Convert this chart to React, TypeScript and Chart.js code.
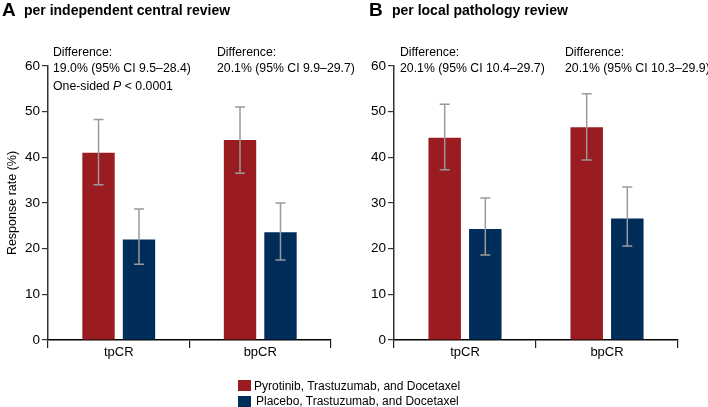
import React, { useEffect, useRef } from 'react';
import { Chart, registerables } from 'chart.js';
Chart.register(...registerables);

const FONT = '"Liberation Sans", Arial, Helvetica, sans-serif';
const RED = '#9b1c20';
const BLUE = '#012d5a';
const ERR = '#9a9a9a';

const categories = ['tpCR', 'bpCR'];
const seriesNames = ['Pyrotinib, Trastuzumab, and Docetaxel', 'Placebo, Trastuzumab, and Docetaxel'];
const yTicks = [0, 10, 20, 30, 40, 50, 60];

// Panel A: per independent central review
const aRed = [41.0, 43.8];
const aRedLow = [34.0, 36.5];
const aRedHigh = [48.3, 51.0];
const aBlue = [22.0, 23.6];
const aBlueLow = [16.6, 17.5];
const aBlueHigh = [28.7, 30.0];

// Panel B: per local pathology review
const bRed = [44.3, 46.6];
const bRedLow = [37.3, 39.4];
const bRedHigh = [51.6, 53.9];
const bBlue = [24.3, 26.6];
const bBlueLow = [18.6, 20.6];
const bBlueHigh = [31.1, 33.5];

function makeErrPlugin(lows: number[][], highs: number[][]) {
  return {
    id: 'errbars',
    afterDatasetsDraw(chart: any) {
      const ctx = chart.ctx;
      const y = chart.scales.y;
      ctx.save();
      ctx.strokeStyle = ERR;
      ctx.lineWidth = 1.5;
      chart.data.datasets.forEach((_: any, di: number) => {
        const meta = chart.getDatasetMeta(di);
        meta.data.forEach((bar: any, i: number) => {
          const x = bar.x;
          const yl = y.getPixelForValue(lows[di][i]);
          const yh = y.getPixelForValue(highs[di][i]);
          ctx.beginPath();
          ctx.moveTo(x, yl);
          ctx.lineTo(x, yh);
          ctx.moveTo(x - 5, yl);
          ctx.lineTo(x + 5, yl);
          ctx.moveTo(x - 5, yh);
          ctx.lineTo(x + 5, yh);
          ctx.stroke();
        });
      });
      ctx.restore();
    },
  };
}

type PanelProps = {
  left: number;
  yAxisWidth: number;
  rightPad: number;
  yTitle: string;
  red: number[]; redLow: number[]; redHigh: number[];
  blue: number[]; blueLow: number[]; blueHigh: number[];
};

function Panel(p: PanelProps) {
  const ref = useRef<HTMLCanvasElement>(null);
  useEffect(() => {
    const chart = new Chart(ref.current as HTMLCanvasElement, {
      type: 'bar',
      data: {
        labels: categories,
        datasets: [
          { label: seriesNames[0], data: p.red, backgroundColor: RED, borderWidth: 0 },
          { label: seriesNames[1], data: p.blue, backgroundColor: BLUE, borderWidth: 0 },
        ],
      },
      options: {
        responsive: false,
        animation: false,
        devicePixelRatio: 1,
        layout: { padding: { top: 66, right: p.rightPad, bottom: 0, left: 0 } },
        plugins: { legend: { display: false }, tooltip: { enabled: false } },
        datasets: { bar: { categoryPercentage: 0.572, barPercentage: 0.8 } },
        scales: {
          x: {
            grid: { offset: true, drawOnChartArea: false, tickLength: 8, color: '#222', lineWidth: 1.2 },
            border: { color: '#000', width: 1.5 },
            ticks: { color: '#000', font: { family: FONT, size: 13 }, padding: -3 },
            afterFit: (s: any) => { s.height = 67; },
          },
          y: {
            min: 0,
            max: 60,
            afterBuildTicks: (s: any) => { s.ticks = yTicks.map((v) => ({ value: v })); },
            ticks: { color: '#000', font: { family: FONT, size: 13.5 }, padding: 2 },
            grid: { drawOnChartArea: false, tickLength: 6, color: '#333', lineWidth: 1.2 },
            border: { color: '#333', width: 1.5 },
            title: { display: !!p.yTitle, text: p.yTitle, color: '#000', font: { family: FONT, size: 12.5 }, padding: { top: 5, bottom: 0 } },
            afterFit: (s: any) => { s.width = p.yAxisWidth; },
          },
        },
      },
      plugins: [makeErrPlugin([p.redLow, p.blueLow], [p.redHigh, p.blueHigh])],
    } as any);
    return () => chart.destroy();
  }, []);
  return (
    <canvas
      ref={ref}
      width={354}
      height={407}
      style={{ position: 'absolute', left: p.left, top: 0, width: 354, height: 407 }}
    />
  );
}

function Txt({ x, base, size, bold, sx, children }: any) {
  const top = base - size * 0.8465;
  return (
    <div
      style={{
        position: 'absolute', left: x, top, fontFamily: FONT, fontSize: size, lineHeight: 1,
        fontWeight: bold ? 'bold' : 'normal', color: '#000', whiteSpace: 'nowrap',
        transform: sx ? `scaleX(${sx})` : undefined, transformOrigin: 'left top',
      }}
    >
      {children}
    </div>
  );
}

const NS = 13.5;
const NX = 0.91;

export default function App() {
  return (
    <div style={{ position: 'fixed', left: 0, top: 0, width: 708, height: 407, background: '#fff', overflow: 'hidden' }}>
      <Panel left={0} yAxisWidth={48} rightPad={23} yTitle="Response rate (%)"
        red={aRed} redLow={aRedLow} redHigh={aRedHigh} blue={aBlue} blueLow={aBlueLow} blueHigh={aBlueHigh} />
      <Panel left={354} yAxisWidth={40} rightPad={30} yTitle=""
        red={bRed} redLow={bRedLow} redHigh={bRedHigh} blue={bBlue} blueLow={bBlueLow} blueHigh={bBlueHigh} />

      <Txt x={2} base={16} size={19} bold>A</Txt>
      <Txt x={24} base={14.5} size={14} bold>per independent central review</Txt>
      <Txt x={369} base={16} size={19} bold>B</Txt>
      <Txt x={392} base={14.5} size={14} bold>per local pathology review</Txt>

      <Txt x={53} base={56} size={NS} sx={NX}>Difference:</Txt>
      <Txt x={53} base={72} size={NS} sx={NX}>19.0% (95% CI 9.5–28.4)</Txt>
      <Txt x={53} base={90.5} size={NS} sx={NX}>One-sided <i>P</i> &lt; 0.0001</Txt>
      <Txt x={217} base={56} size={NS} sx={NX}>Difference:</Txt>
      <Txt x={217} base={72} size={NS} sx={NX}>20.1% (95% CI 9.9–29.7)</Txt>

      <Txt x={400} base={56} size={NS} sx={NX}>Difference:</Txt>
      <Txt x={400} base={72} size={NS} sx={NX}>20.1% (95% CI 10.4–29.7)</Txt>
      <Txt x={565} base={56} size={NS} sx={NX}>Difference:</Txt>
      <Txt x={565} base={72} size={NS} sx={NX}>20.1% (95% CI 10.3–29.9)</Txt>

      <div style={{ position: 'absolute', left: 238, top: 380, width: 13, height: 11, background: RED }} />
      <div style={{ position: 'absolute', left: 238, top: 396, width: 13, height: 11, background: BLUE }} />
      <Txt x={254} base={390} size={12}>{seriesNames[0]}</Txt>
      <Txt x={256} base={405} size={12}>{seriesNames[1]}</Txt>
    </div>
  );
}
